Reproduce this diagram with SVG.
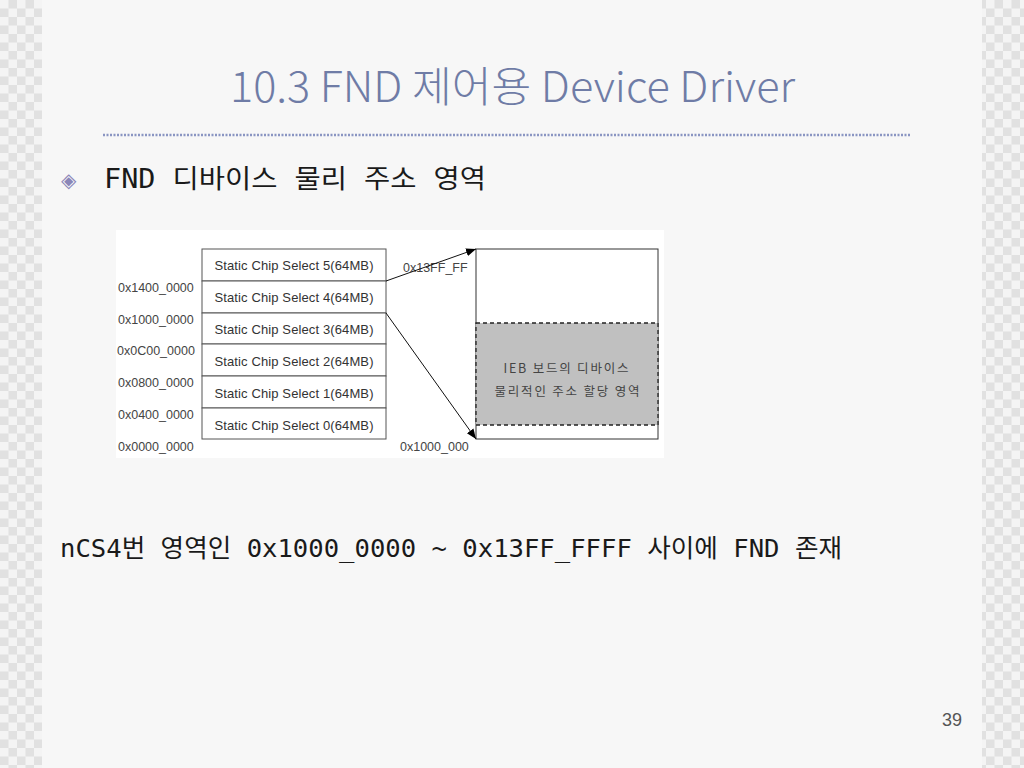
<svg xmlns="http://www.w3.org/2000/svg" width="1024" height="768" viewBox="0 0 1024 768">
<defs>
<pattern id="chk" patternUnits="userSpaceOnUse" width="17" height="17">
<rect width="17" height="17" fill="#f4f4f4"/>
<rect x="8.5" y="0" width="8.5" height="8.5" fill="#e1e1e1"/>
<rect x="0" y="8.5" width="8.5" height="8.5" fill="#e1e1e1"/>
</pattern>
<marker id="arr" viewBox="0 0 10 10" refX="10" refY="5" markerWidth="10" markerHeight="10" markerUnits="userSpaceOnUse" orient="auto">
<path d="M0,1 L10,5 L0,9 z" fill="#000"/>
</marker>
<style>
.lbl{font-family:"Liberation Sans","Noto Sans CJK KR",sans-serif;font-size:12.5px;fill:#444}
.cell{fill:#fff;stroke:#555;stroke-width:1}
.ctext{font-family:"Liberation Sans","Noto Sans CJK KR",sans-serif;font-size:13px;fill:#333;text-anchor:middle}
.kor{font-family:"Noto Sans CJK KR",sans-serif;font-size:12.5px;fill:#444;text-anchor:middle}
.body{font-family:"DejaVu Sans Mono","Noto Sans CJK KR",monospace;fill:#1a1a1a}
</style>
</defs>
<rect width="1024" height="768" fill="#f7f7f7"/>
<rect x="0" y="0" width="42" height="768" fill="url(#chk)"/>
<rect x="982" y="0" width="42" height="768" fill="url(#chk)"/>

<g id="title">
<text x="230" y="102" font-family="'Noto Sans CJK KR',sans-serif" font-weight="300" font-size="42" fill="#6f7ca6" textLength="565" lengthAdjust="spacingAndGlyphs">10.3 FND 제어용 Device Driver</text>
<line x1="103" y1="135" x2="910" y2="135" stroke="#8a95c2" stroke-width="2.5" stroke-dasharray="2 1.5"/>
</g>

<g id="bullet">
<text x="61" y="187" font-family="'DejaVu Sans','Noto Sans CJK KR',sans-serif" font-size="20" fill="#8a86b8">◈</text>
<text class="body" x="104" y="188" font-size="26" textLength="382" lengthAdjust="spacingAndGlyphs">FND 디바이스 물리 주소 영역</text>
</g>

<g id="diagram">
<rect x="116" y="230" width="548" height="228" fill="#fff"/>
<g id="cs5"><rect class="cell" x="202" y="249" width="184" height="32"/><text class="ctext" x="294" y="270" textLength="159">Static Chip Select 5(64MB)</text></g>
<g id="cs4"><rect class="cell" x="202" y="281" width="184" height="32"/><text class="ctext" x="294" y="302" textLength="159">Static Chip Select 4(64MB)</text></g>
<g id="cs3"><rect class="cell" x="202" y="313" width="184" height="31"/><text class="ctext" x="294" y="334" textLength="159">Static Chip Select 3(64MB)</text></g>
<g id="cs2"><rect class="cell" x="202" y="344" width="184" height="32"/><text class="ctext" x="294" y="366" textLength="159">Static Chip Select 2(64MB)</text></g>
<g id="cs1"><rect class="cell" x="202" y="376" width="184" height="32"/><text class="ctext" x="294" y="398" textLength="159">Static Chip Select 1(64MB)</text></g>
<g id="cs0"><rect class="cell" x="202" y="408" width="184" height="31"/><text class="ctext" x="294" y="430" textLength="159">Static Chip Select 0(64MB)</text></g>

<g id="addr-labels">
<text class="lbl" x="118" y="292">0x1400_0000</text>
<text class="lbl" x="118" y="324">0x1000_0000</text>
<text class="lbl" x="117" y="355">0x0C00_0000</text>
<text class="lbl" x="118" y="387">0x0800_0000</text>
<text class="lbl" x="118" y="419">0x0400_0000</text>
<text class="lbl" x="118" y="451">0x0000_0000</text>
</g>

<g id="zoombox">
<rect x="476" y="249" width="182" height="190" fill="#fff" stroke="#333" stroke-width="1"/>
<rect x="476" y="323" width="182" height="102" fill="#c0c0c0" stroke="#222" stroke-width="1.3" stroke-dasharray="4 3"/>
<text class="kor" x="566" y="373" textLength="125">IEB 보드의 디바이스</text>
<text class="kor" x="567" y="396" textLength="145">물리적인 주소 할당 영역</text>
<text class="lbl" x="403" y="272">0x13FF_FF</text>
<text class="lbl" x="400" y="451">0x1000_000</text>
</g>

<g id="connectors" stroke="#111" stroke-width="1" fill="none">
<line x1="386" y1="281" x2="476" y2="249" marker-end="url(#arr)"/>
<line x1="386" y1="313" x2="476" y2="439" marker-end="url(#arr)"/>
</g>
</g>

<g id="note">
<text class="body" x="60" y="557" font-size="25" textLength="782" lengthAdjust="spacingAndGlyphs">nCS4번 영역인 0x1000_0000 ~ 0x13FF_FFFF 사이에 FND 존재</text>
</g>

<text x="962" y="726" font-family="'Liberation Sans',sans-serif" font-size="18" fill="#555" text-anchor="end">39</text>
</svg>
